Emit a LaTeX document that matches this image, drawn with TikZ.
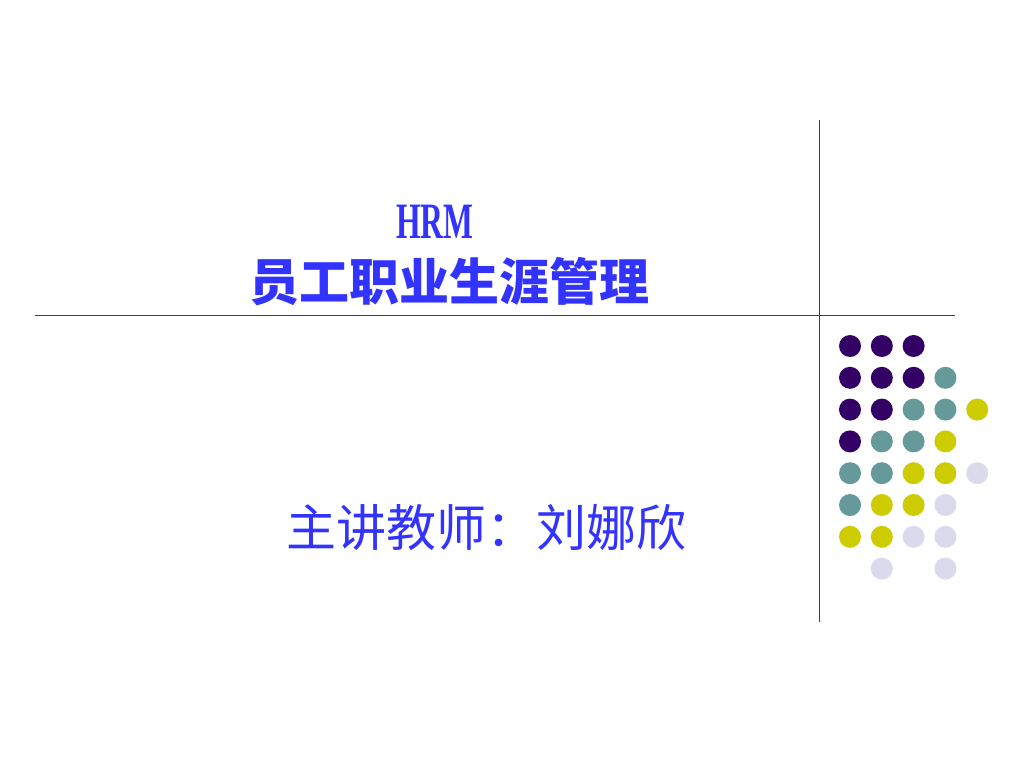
\documentclass[tikz,border=0pt]{standalone}
\usepackage{fontspec}
\usepackage{graphicx}
\newfontfamily\cjk{Noto Sans CJK SC}
\newfontfamily\hrmfont{Liberation Serif}
\definecolor{titleblue}{RGB}{51,51,255}
\definecolor{rulegray}{RGB}{64,64,64}
\definecolor{dotpurple}{RGB}{51,0,102}
\definecolor{dotteal}{RGB}{102,153,153}
\definecolor{dotyellow}{RGB}{204,204,0}
\definecolor{dotlilac}{RGB}{218,218,236}
\begin{document}
\begin{tikzpicture}[x=1pt,y=-1pt,
    slidetext/.style={inner sep=0pt,text=titleblue},
    slideline/.style={draw=rulegray,line width=1pt}]
    \useasboundingbox (0,0) rectangle (1024,768);
    \coordinate (hleft) at (35,315);
    \coordinate (hright) at (955,315);
    \coordinate (vtop) at (819,120);
    \coordinate (vbottom) at (819,622);
    \draw[slideline] (hleft) -- (hright);
    \draw[slideline] (vtop) -- (vbottom);
    \node[slidetext] (hrm) at (435,222) {\scalebox{0.62}[1]{\hrmfont\bfseries\fontsize{51}{51}\selectfont HRM}};
    \node[slidetext] (title) at (449,282) {\cjk\bfseries\fontsize{50}{50}\selectfont 员工职业生涯管理};
    \node[slidetext] (teacher) at (486,527) {\cjk\fontsize{50}{50}\selectfont 主讲教师：刘娜欣};
    \foreach \c/\r/\col in {0/0/dotpurple,1/0/dotpurple,2/0/dotpurple,
        0/1/dotpurple,1/1/dotpurple,2/1/dotpurple,3/1/dotteal,
        0/2/dotpurple,1/2/dotpurple,2/2/dotteal,3/2/dotteal,4/2/dotyellow,
        0/3/dotpurple,1/3/dotteal,2/3/dotteal,3/3/dotyellow,
        0/4/dotteal,1/4/dotteal,2/4/dotyellow,3/4/dotyellow,4/4/dotlilac,
        0/5/dotteal,1/5/dotyellow,2/5/dotyellow,3/5/dotlilac,
        0/6/dotyellow,1/6/dotyellow,2/6/dotlilac,3/6/dotlilac,
        1/7/dotlilac,3/7/dotlilac}
        \fill[\col] (850+31.8*\c,346+31.8*\r) circle (11);
\end{tikzpicture}
\end{document}
